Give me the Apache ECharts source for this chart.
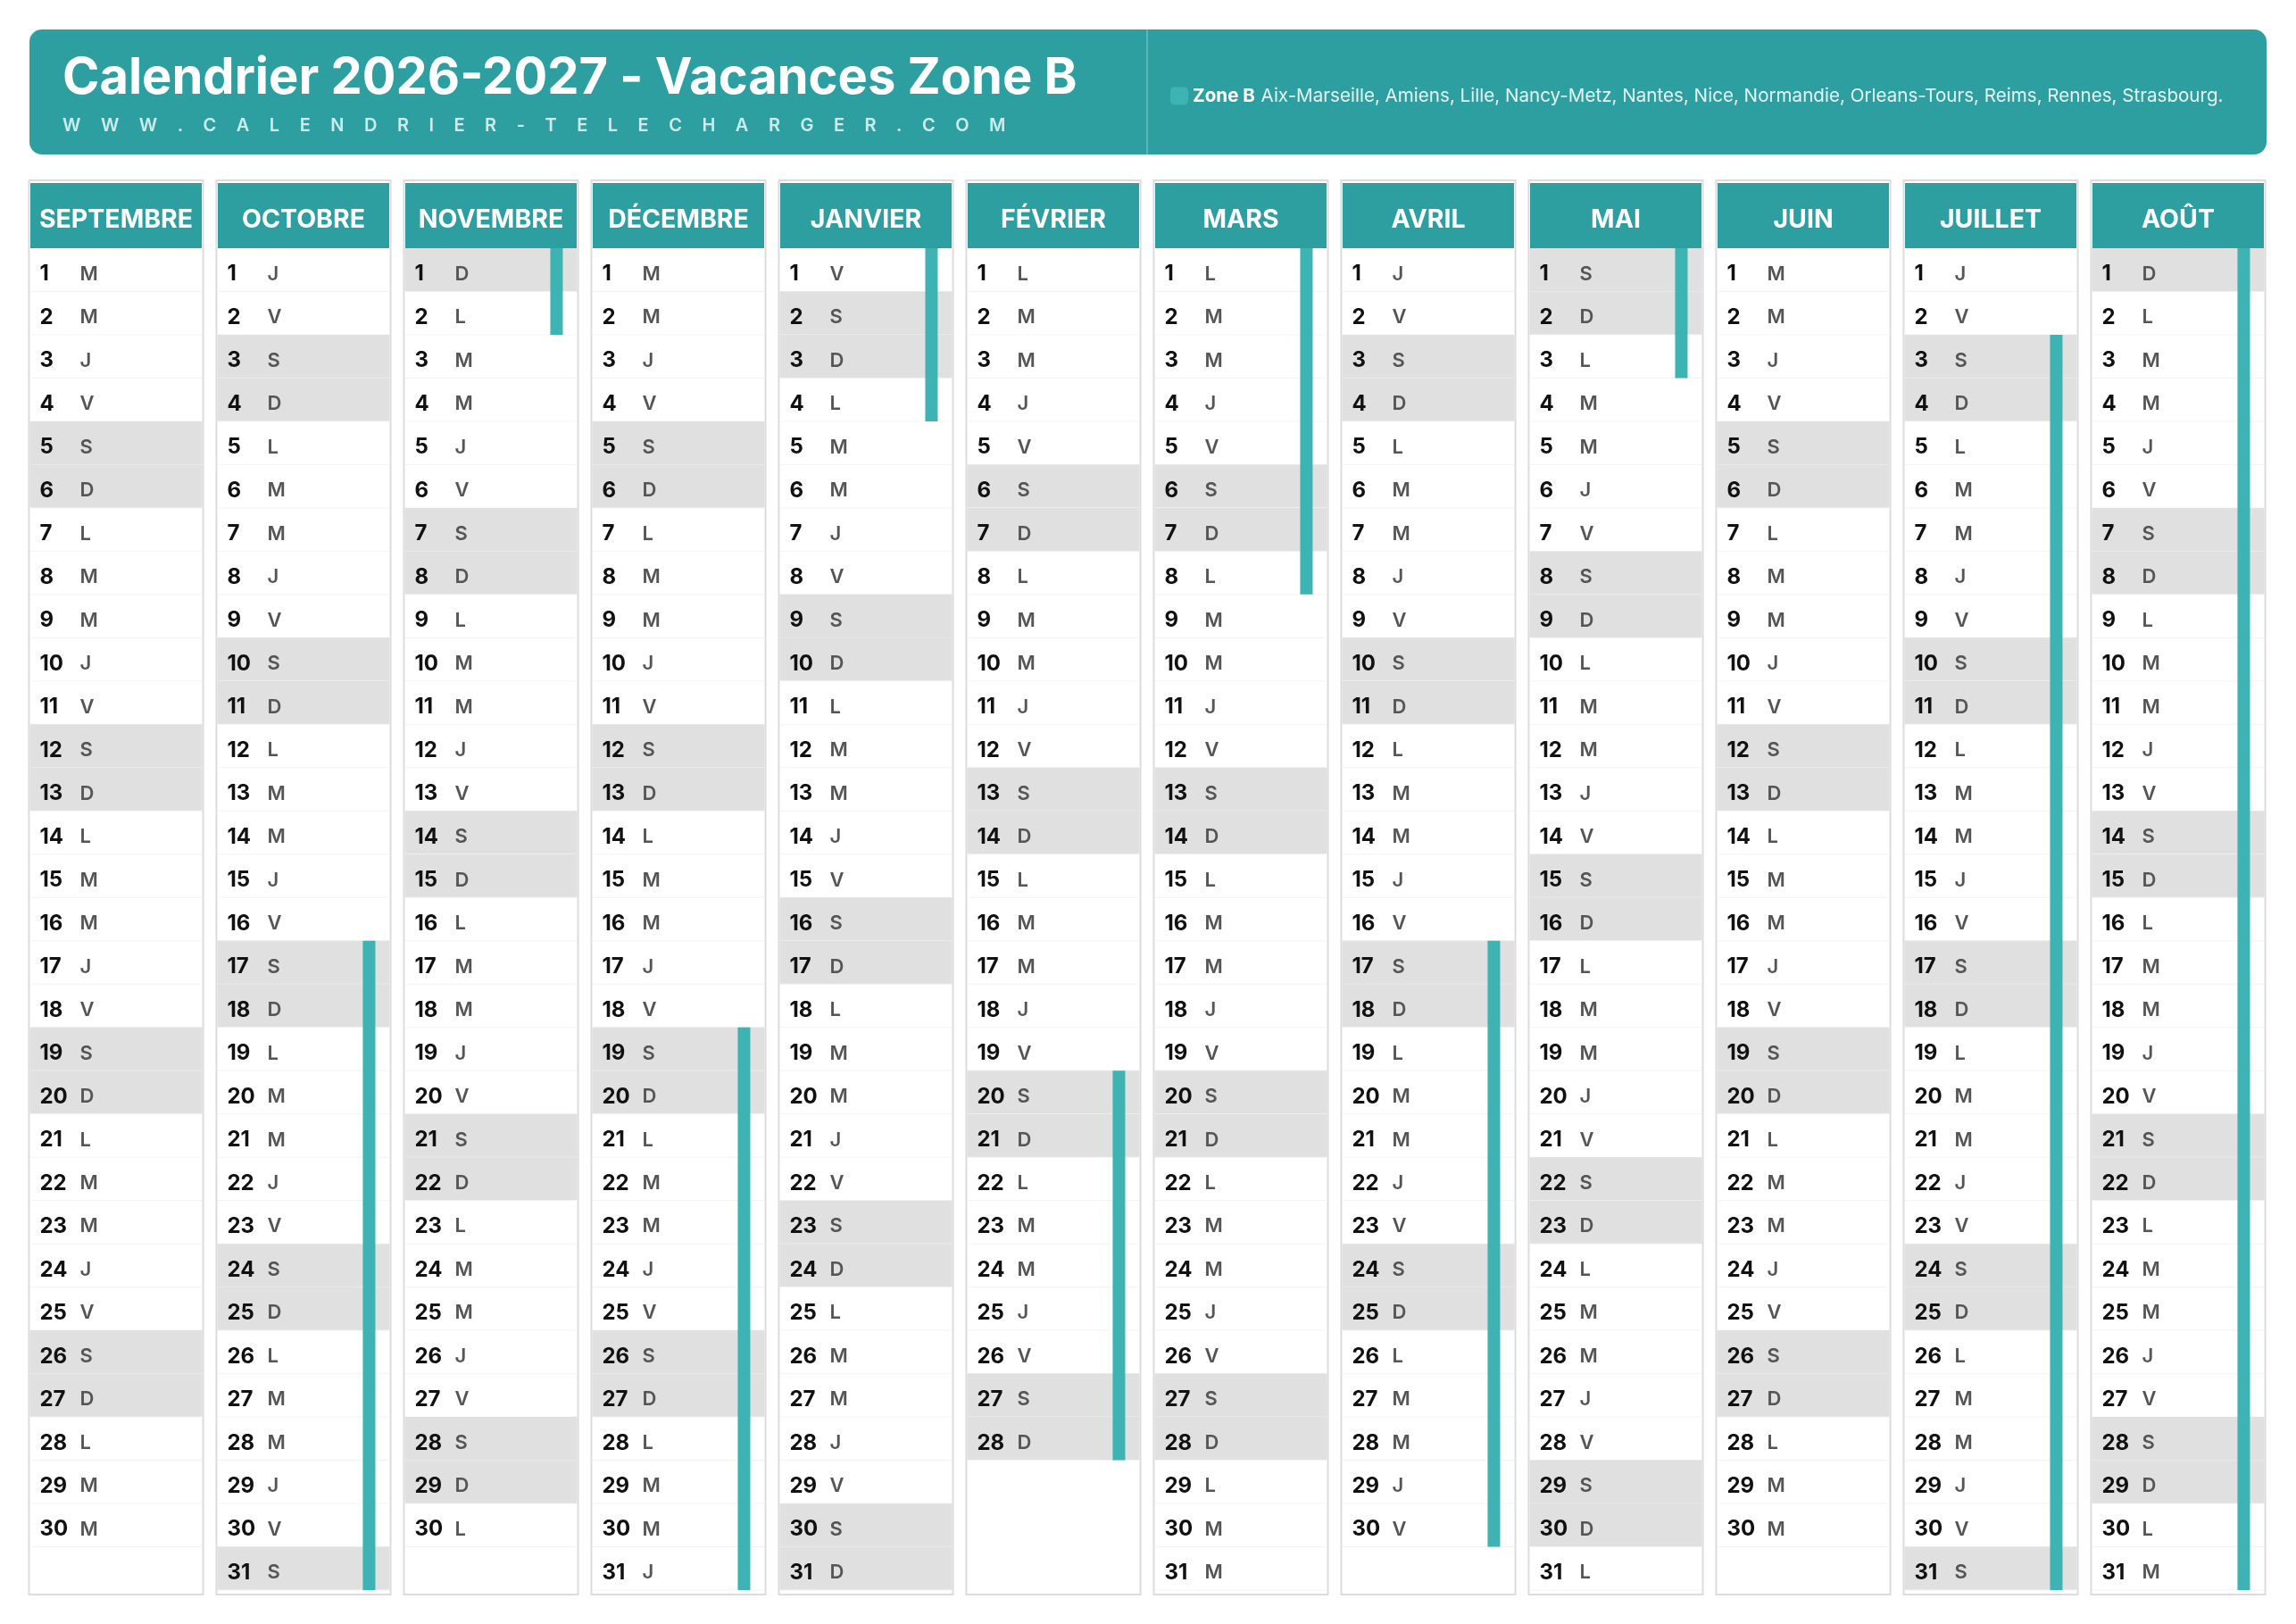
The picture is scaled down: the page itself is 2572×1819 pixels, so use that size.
<!DOCTYPE html>
<html>
<head>
<meta charset="utf-8">
<title>Calendrier 2026-2027 - Vacances Zone B</title>
<script src="https://cdn.jsdelivr.net/npm/echarts@6/dist/echarts.min.js"></script>
<style>
    html, body { margin: 0; padding: 0; background: #fff; }
    #calendar { width: 2572px; height: 1819px; }
</style>
</head>
<body>
<div id="calendar"></div>
<script>
// mois de l'annee scolaire, nombre de jours, et jour de la semaine du 1er (0 = lundi)
var MONTHS = ['SEPTEMBRE', 'OCTOBRE', 'NOVEMBRE', 'DÉCEMBRE', 'JANVIER', 'FÉVRIER',
    'MARS', 'AVRIL', 'MAI', 'JUIN', 'JUILLET', 'AOÛT'];
var MONTH_DAYS = [30, 31, 30, 31, 31, 28, 31, 30, 31, 30, 31, 31];
var FIRST_WEEKDAY = [1, 3, 6, 1, 4, 0, 0, 3, 5, 1, 3, 6];
var DAY_LETTERS = ['L', 'M', 'M', 'J', 'V', 'S', 'D'];

// vacances zone B : [mois, premier jour, dernier jour]
var VACATIONS = [
    [1, 17, 31], [2, 1, 2],
    [3, 19, 31], [4, 1, 4],
    [5, 20, 28], [6, 1, 8],
    [7, 17, 30], [8, 1, 3],
    [10, 3, 31], [11, 1, 31]
];

var ZONE_NAME = 'Zone B';
var ZONE_CITIES = 'Aix-Marseille, Amiens, Lille, Nancy-Metz, Nantes, Nice, Normandie, Orleans-Tours, Reims, Rennes, Strasbourg.';
var TITLE = 'Calendrier 2026-2027 - Vacances Zone B';
var SITE = 'WWW.CALENDRIER-TELECHARGER.COM';

var TEAL = '#2e9fa0';
var BAR = '#3db4b3';
var FONT = 'Inter, "Noto Sans", sans-serif';

var dayCells = [];
for (var m = 0; m < MONTHS.length; m++) {
    for (var d = 1; d <= MONTH_DAYS[m]; d++) {
        var wd = (FIRST_WEEKDAY[m] + d - 1) % 7;
        dayCells.push([m, d, wd]);
    }
}
var frames = MONTHS.map(function (name, i) { return [i, 0, 31]; });

function colBox(api, m) {
    var band = api.size([1, 0])[0];
    var colW = band * 0.929;
    var cx = api.coord([m, 0])[0];
    return { left: cx - colW / 2, width: colW };
}

// adresse du site en lettres espacees
function spacedText(text, x, y, font, fill, spacing) {
    var ctx = document.createElement('canvas').getContext('2d');
    ctx.font = font;
    var items = [];
    for (var i = 0; i < text.length; i++) {
        items.push({ type: 'text', z: 1, style: { text: text[i], x: x, y: y, fill: fill, font: font, verticalAlign: 'middle' } });
        x += ctx.measureText(text[i]).width + spacing;
    }
    return items;
}

var chart = echarts.init(document.getElementById('calendar'), null, { renderer: 'canvas' });

var graphics = [
    { type: 'rect', z: 0, shape: { x: 33, y: 33, width: 2506, height: 140, r: 14 }, style: { fill: TEAL } },
    { type: 'line', z: 1, shape: { x1: 1285, y1: 33, x2: 1285, y2: 173 }, style: { stroke: 'rgba(255,255,255,0.22)', lineWidth: 2 } },
    { type: 'text', z: 1, style: { text: TITLE, x: 70, y: 88, fill: '#fff', font: 'bold 56px ' + FONT, verticalAlign: 'middle' } }
].concat(spacedText(SITE, 70, 141, '600 20px ' + FONT, '#c9ecec', 22.5));

var option = {
    backgroundColor: '#fff',
    animation: false,
    grid: { left: 25, right: 27, top: 278, bottom: 38 },
    xAxis: {
        type: 'category',
        position: 'top',
        z: 10,
        data: MONTHS,
        axisLine: { show: false },
        axisTick: { show: false },
        splitLine: { show: false },
        axisLabel: {
            interval: 0,
            margin: 0,
            color: '#fff',
            fontFamily: FONT,
            fontWeight: 'bold',
            fontSize: 28.5,
            backgroundColor: TEAL,
            width: 192,
            height: 64,
            lineHeight: 64,
            padding: [9, 0, 0, 0],
            align: 'center'
        }
    },
    yAxis: { type: 'value', inverse: true, min: 0, max: 31, show: false },
    legend: {
        data: [ZONE_NAME],
        left: 1311,
        top: 97,
        padding: 0,
        icon: 'roundRect',
        itemWidth: 20,
        itemHeight: 20,
        selectedMode: false,
        formatter: function (name) {
            return '{b|' + name + '}  {c|' + ZONE_CITIES + '}';
        },
        textStyle: {
            rich: {
                b: { color: '#fff', fontFamily: FONT, fontWeight: 'bold', fontSize: 20.6 },
                c: { color: '#e4f5f5', fontFamily: FONT, fontSize: 20.6 }
            }
        }
    },
    graphic: graphics,
    series: [
        {
            type: 'custom',
            name: 'cadres',
            z: 1,
            encode: { x: 0, y: [1, 2] },
            data: frames,
            renderItem: function (params, api) {
                var box = colBox(api, api.value(0));
                var top = api.coord([0, api.value(1)])[1] - 76;
                var bottom = api.coord([0, api.value(2)])[1] + 5;
                return {
                    type: 'rect',
                    shape: { x: box.left, y: top, width: box.width, height: bottom - top },
                    style: { fill: '#fff', stroke: '#dcdcdc', lineWidth: 2 }
                };
            }
        },
        {
            type: 'custom',
            name: 'jours',
            z: 2,
            encode: { x: 0, y: 1 },
            data: dayCells,
            renderItem: function (params, api) {
                var box = colBox(api, api.value(0));
                var day = api.value(1);
                var wd = api.value(2);
                var top = api.coord([0, day - 1])[1];
                var rowH = api.size([0, 1])[1];
                var mid = top + rowH / 2 + 5;
                var children = [];
                if (wd >= 5) {
                    children.push({
                        type: 'rect',
                        shape: { x: box.left + 1, y: top, width: box.width - 2, height: rowH },
                        style: { fill: '#e0e0e0' }
                    });
                }
                children.push({
                    type: 'line',
                    shape: { x1: box.left + 1, y1: top + rowH, x2: box.left + box.width - 1, y2: top + rowH },
                    style: { stroke: '#f3f3f3', lineWidth: 1 }
                });
                children.push({
                    type: 'text',
                    style: { text: String(day), x: box.left + 12, y: mid, fill: '#111', font: 'bold 24px ' + FONT, verticalAlign: 'middle' }
                });
                children.push({
                    type: 'text',
                    style: { text: DAY_LETTERS[wd], x: box.left + 57, y: mid, fill: '#555', font: '600 22px ' + FONT, verticalAlign: 'middle' }
                });
                return { type: 'group', children: children };
            }
        },
        {
            type: 'custom',
            name: ZONE_NAME,
            z: 3,
            itemStyle: { color: BAR },
            encode: { x: 0, y: [1, 2] },
            data: VACATIONS,
            renderItem: function (params, api) {
                var box = colBox(api, api.value(0));
                var top = api.coord([0, api.value(1) - 1])[1];
                var bottom = api.coord([0, api.value(2)])[1];
                return {
                    type: 'rect',
                    shape: { x: box.left + 164, y: top, width: 14, height: bottom - top },
                    style: { fill: BAR }
                };
            }
        }
    ]
};

chart.setOption(option);
window.onresize = function () { chart.resize(); };
</script>
</body>
</html>
